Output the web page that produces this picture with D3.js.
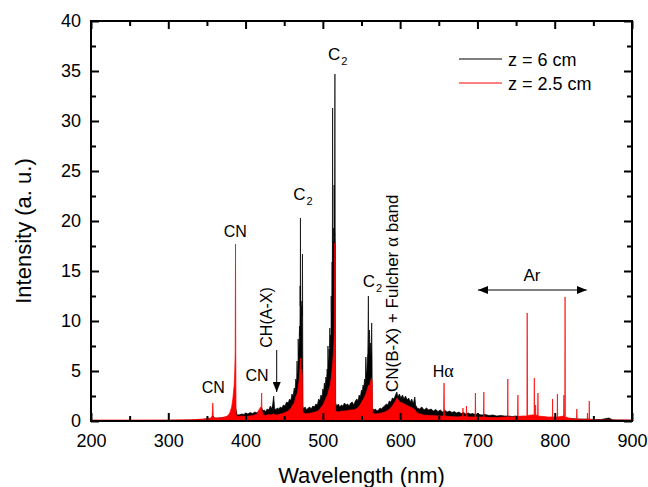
<!DOCTYPE html>
<html><head><meta charset="utf-8">
<script src="https://cdn.jsdelivr.net/npm/d3@7"></script>
<style>
body{margin:0;background:#fff}
svg{display:block;font-family:"Liberation Sans",Arial,sans-serif}
</style>
</head><body>
<svg id="chart" width="648" height="487"></svg>
<script>
// ---------- data ----------
const xTickValues = [200, 300, 400, 500, 600, 700, 800, 900];
const xMinorValues = [250, 350, 450, 550, 650, 750, 850];
const yTickValues = [0, 5, 10, 15, 20, 25, 30, 35, 40];
const yMinorValues = [2.5, 7.5, 12.5, 17.5, 22.5, 27.5, 32.5, 37.5];
const seriesNames = ["z = 6 cm", "z = 2.5 cm"];
const seriesColors = ["#000000", "#ff0000"];

// [wavelength (nm), intensity (a.u.)]  z = 6 cm
const spectrum6cm = [
[200,0.05],[250,0.05],[300,0.06],[320,0.08],[340,0.12],[350,0.18],[355,0.22],[358,0.5],[360,0.28],[365,0.3],[370,0.33],[375,0.38],[380,0.45],[384,0.7],[387,1.4],[389,0.6],
[392,0.62],[395,0.7],[398,0.66],[400,0.8],[403,0.7],[406,0.85],[409,0.75],[412,0.9],[415,0.8],[417,1.0],[419,0.9],[421,1.3],[422.5,1.0],[424,1.1],[426,0.95],[428,1.2],
[430,1.1],[432,1.5],[433.5,1.2],[435,1.6],[436.4,2.5],[437.5,1.3],[439,1.1],[441,1.3],[443,1.2],[445,1.4],[447,1.3],[449,1.6],[451,1.5],[453,1.9],[455,1.8],[457,2.2],
[458.5,2.0],[460,2.7],[461.5,2.5],[463,3.3],[464,3.0],[465,4.2],[466,3.8],[466.6,6.0],[467,5.0],[467.8,4.6],[468.1,8.2],[468.5,6.5],[469.2,7.5],[469.8,9.5],[470.3,8.5],[470.6,13.5],[470.8,11.5],[471,20.3],[471.3,10],
[471.8,11.5],[472.3,9],[472.8,12],[473.3,10.5],[473.6,16.7],[473.9,9.5],[474.2,1.5],[475,1.2],[477,1.4],[479,1.1],[481,1.3],[483,1.4],[485,1.2],[487,1.5],[489,1.4],[491,1.7],
[493,1.6],[494.5,2.2],[496,2.0],[497.5,2.6],[499,2.4],[500,3.2],[501,2.9],[502,3.8],[503,3.5],[504,4.4],[504.8,4.0],[505.5,5.2],[506.2,4.8],[506.6,7.5],[507,6.3],[507.6,5.6],[508.2,7.2],
[508.6,6.6],[509,9.3],[509.4,7.4],[510,8.6],[510.5,8.0],[510.8,12.5],[511,11.0],[511.4,10.0],[511.8,12.8],[512,15.9],[512.2,11.5],[512.6,31.3],[512.9,13.5],[513.3,15.8],[513.5,19.3],[513.7,14.5],[514.1,18.0],[514.5,16.5],[514.6,23.6],[514.9,20.0],
[515.2,18.5],[515.6,34.7],[515.9,19],[516.2,17.5],[516.5,1.8],[518,1.5],[520,1.7],[522,1.4],[524,1.6],[526,1.5],[528,1.8],[530,1.6],[532,1.7],[534,1.5],[536,1.8],[538,1.9],
[540,1.6],[542,2.0],[544,2.2],[545.5,2.0],[547,2.6],[548.5,2.4],[550,3.1],[551,2.9],[552,3.6],[553,3.3],[554,4.2],[555,3.9],[555.6,6.4],[556,5.1],[556.8,4.7],[557.5,6.2],[558.2,6.8],
[558.9,12.5],[559.3,7.2],[559.8,7.5],[560.3,9.1],[560.8,7.0],[561.4,7.8],[562,6.6],[562.6,7.2],[563.2,9.8],[563.6,6.5],[564,1.3],[566,1.1],[568,1.2],[570,1.0],[572,1.1],[574,1.3],
[576,1.2],[578,1.4],[580,1.5],[582,1.7],[584,1.6],[586,2.0],[588,1.9],[590,2.3],[592,2.2],[594,2.6],[595.7,2.9],[597,2.4],[599,2.7],[601,2.3],[603,2.6],[605,2.2],
[607,2.5],[609,2.1],[611,2.3],[613,1.9],[615,2.2],[617,1.7],[619,2.4],[620,1.6],[622,1.3],[625,1.2],[628,1.4],[631,1.1],[634,1.3],[637,1.1],[640,1.2],[643,1.0],
[646,1.15],[649,0.95],[652,1.1],[655,0.9],[658,1.05],[661,0.9],[664,1.0],[667,0.85],[670,0.95],[673,0.8],[676,0.9],[679,0.75],[682,0.85],[685,0.7],[688,0.8],[691,0.7],
[694,0.75],[697,0.65],[700,0.7],[705,0.6],[710,0.65],[715,0.55],[720,0.6],[725,0.5],[730,0.55],[735,0.5],[740,0.5],[745,0.45],[750,0.5],[755,0.4],[760,0.45],[765,0.4],
[770,0.4],[780,0.35],[790,0.35],[800,0.3],[810,0.3],[820,0.25],[830,0.2],[840,0.2],[850,0.15],[860,0.15],[870,0.3],[875,0.12],[880,0.1],[890,0.1],[900,0.08]
];

// [wavelength (nm), intensity (a.u.)]  z = 2.5 cm
const spectrum25cm = [
[200,0.1],[250,0.1],[300,0.1],[330,0.12],[345,0.2],[350,0.25],[355,0.3],[356.8,0.5],[357.6,1.8],[358.2,0.4],[360,0.3],[365,0.3],[370,0.35],[375,0.45],[378,0.6],[380,0.9],
[382,1.4],[383.5,2.2],[384.5,3.0],[385.3,3.6],[386,5.0],[386.6,6.8],[387,17.7],[387.3,7.0],[387.7,0.6],[390,0.45],[395,0.5],[400,0.45],[405,0.5],[410,0.55],[415,0.7],[416.5,1.0],
[418,1.2],[419.5,1.4],[420.3,1.3],[420.8,2.8],[421.2,1.0],[423,0.6],[426,0.55],[430,0.65],[433,0.6],[436,0.7],[440,0.6],[445,0.7],[450,0.8],[455,1.0],[458,1.2],[461,1.6],
[463,1.8],[465,2.4],[467,2.8],[468.5,3.6],[469.5,4.2],[470.5,5.5],[471.2,6.3],[471.8,4.8],[472.5,5.2],[473.4,4.5],[474,0.9],[477,0.7],[480,0.75],[485,0.8],[490,0.9],[494,1.0],
[497,1.3],[500,1.6],[502,1.9],[504,2.3],[506,2.6],[508,3.2],[509.5,3.6],[511,4.4],[512.2,5.4],[513,6.1],[513.8,7.0],[514.5,8.1],[515,9.5],[515.3,17.8],[515.8,16],[516.2,15],
[516.5,1.0],[520,0.9],[525,1.0],[530,1.0],[535,1.1],[540,1.1],[545,1.3],[548,1.6],[551,2.0],[554,2.4],[556,2.8],[558,3.3],[559,3.6],[560,3.4],[561.5,3.9],[563,4.3],
[563.8,4.0],[564.2,0.8],[568,0.7],[572,0.75],[576,0.8],[580,0.9],[585,1.1],[590,1.5],[594,2.0],[596,2.3],[599,1.9],[603,1.8],[608,1.6],[613,1.4],[618,1.2],[622,0.8],
[630,0.6],[640,0.55],[650,0.5],[656.2,0.5],[656.8,3.8],[657.3,0.5],[665,0.45],[675,0.4],[681,0.5],[681.3,1.3],[681.6,0.45],[685.5,0.5],[685.8,1.5],[686.1,0.45],[690,0.4],[697,0.4],
[697.4,2.8],[697.8,0.4],[705,0.4],[708,0.4],[708.3,2.9],[708.6,0.4],[715,0.35],[725,0.35],[735,0.4],[739,0.4],[739.3,4.2],[739.6,0.4],[745,0.4],[752,0.45],[752.4,2.6],[752.7,0.45],
[758,0.5],[764,0.5],[764.4,10.8],[764.8,0.55],[770,0.6],[773.3,0.6],[773.6,4.3],[773.9,0.6],[775,0.6],[775.3,1.6],[775.6,0.6],[778,0.55],[778.3,2.8],[778.6,0.5],[785,0.45],[792,0.4],
[797,0.4],[797.2,2.2],[797.5,0.4],[803.2,0.4],[803.5,2.7],[803.8,0.4],[811.6,0.5],[811.9,2.6],[812.2,0.5],[813.1,0.5],[813.4,12.4],[813.7,0.4],[818,0.3],[825,0.2],[828.3,0.2],[828.6,1.2],
[828.9,0.2],[835,0.15],[842,0.15],[842.4,0.8],[842.7,0.2],[844.4,0.2],[844.7,2.0],[845,0.15],[860,0.1],[880,0.1],[900,0.1]
];

// ---------- layout ----------
const svg = d3.select("#chart");
const L = 91, R = 632, T = 21, B = 421;
const x = d3.scaleLinear().domain([200, 900]).range([L, R]);
const y = d3.scaleLinear().domain([0, 40]).range([B, T]);

svg.append("defs").append("clipPath").attr("id", "clip")
  .append("rect").attr("x", L).attr("y", T).attr("width", R - L).attr("height", B - T);

const plot = svg.append("g").attr("clip-path", "url(#clip)");
const area = d3.area().x(d => x(d[0])).y0(y(0)).y1(d => y(d[1]));
const line = d3.line().x(d => x(d[0])).y(d => y(d[1]));

[spectrum6cm, spectrum25cm].forEach((data, i) => {
  plot.append("path").datum(data).attr("d", area).attr("fill", seriesColors[i]);
  plot.append("path").datum(data).attr("d", line).attr("fill", "none")
    .attr("stroke", seriesColors[i]).attr("stroke-width", 0.7);
});

// ---------- axes ----------
const fontSize = 18;
function styleAxis(g) {
  g.select(".domain").remove();
  g.selectAll(".tick line").attr("stroke", "#000").attr("stroke-width", 2);
  g.selectAll("text").attr("font-size", fontSize).attr("fill", "#000")
    .attr("font-family", '"Liberation Sans", Arial, sans-serif');
}
svg.append("g").attr("transform", `translate(0,${B})`)
  .call(d3.axisBottom(x).tickValues(xTickValues).tickSize(-8).tickPadding(13).tickFormat(d3.format("d"))).call(styleAxis);
svg.append("g").attr("transform", `translate(0,${B})`)
  .call(d3.axisBottom(x).tickValues(xMinorValues).tickSize(-5).tickFormat("")).call(styleAxis);
svg.append("g").attr("transform", `translate(0,${T})`)
  .call(d3.axisTop(x).tickValues(xTickValues).tickSize(-8).tickFormat("")).call(styleAxis);
svg.append("g").attr("transform", `translate(0,${T})`)
  .call(d3.axisTop(x).tickValues(xMinorValues).tickSize(-5).tickFormat("")).call(styleAxis);
svg.append("g").attr("transform", `translate(${L},0)`)
  .call(d3.axisLeft(y).tickValues(yTickValues).tickSize(-8).tickPadding(10).tickFormat(d3.format("d"))).call(styleAxis);
svg.append("g").attr("transform", `translate(${L},0)`)
  .call(d3.axisLeft(y).tickValues(yMinorValues).tickSize(-5).tickFormat("")).call(styleAxis);
svg.append("g").attr("transform", `translate(${R},0)`)
  .call(d3.axisRight(y).tickValues(yTickValues).tickSize(-8).tickFormat("")).call(styleAxis);
svg.append("g").attr("transform", `translate(${R},0)`)
  .call(d3.axisRight(y).tickValues(yMinorValues).tickSize(-5).tickFormat("")).call(styleAxis);

svg.append("rect").attr("x", L).attr("y", T).attr("width", R - L).attr("height", B - T)
  .attr("fill", "none").attr("stroke", "#000").attr("stroke-width", 2);

// axis titles
svg.append("text").attr("x", (L + R) / 2).attr("y", 483).attr("text-anchor", "middle")
  .attr("font-size", 22).text("Wavelength (nm)");
svg.append("text").attr("transform", `translate(31,231) rotate(-90)`).attr("text-anchor", "middle")
  .attr("font-size", 22).text("Intensity (a. u.)");

// ---------- legend ----------
const legend = svg.append("g");
seriesNames.forEach((name, i) => {
  const ly = 59 + i * 24;
  legend.append("line").attr("x1", 459).attr("x2", 502).attr("y1", ly).attr("y2", ly)
    .attr("stroke", seriesColors[i]).attr("stroke-width", 1);
  legend.append("text").attr("x", 508).attr("y", ly + 6.5).attr("font-size", 18).text(name);
});

// ---------- annotations ----------
const ann = svg.append("g").attr("fill", "#000");
const serif = '"Liberation Serif", "DejaVu Serif", serif';
function c2(wl, inten) {
  const t = ann.append("text").attr("x", x(wl)).attr("y", y(inten)).attr("font-size", 17);
  t.append("tspan").text("C");
  t.append("tspan").attr("dy", 5).attr("font-size", 11).attr("dx", 1).text("2");
}
c2(506.6, 36.15);
c2(461.8, 22.1);
c2(551.6, 13.43);
function label(txt, wl, inten, size) {
  ann.append("text").attr("x", x(wl)).attr("y", y(inten)).attr("text-anchor", "middle")
    .attr("font-size", size).text(txt);
}
label("CN", 386.7, 18.37, 16);
label("CN", 358.2, 2.83, 16);
label("CN", 414.8, 4.0, 16);
const ha = ann.append("text").attr("x", x(642.1)).attr("y", y(4.4)).attr("font-size", 16);
ha.append("tspan").text("H");
ha.append("tspan").attr("font-family", serif).attr("font-size", 18).text("α");
label("Ar", 770.6, 14.0, 17);
ann.append("text").attr("transform", `translate(${x(434.2)},${y(10.35)}) rotate(-90)`)
  .attr("text-anchor", "middle").attr("font-size", 16).text("CH(A-X)");
const fb = ann.append("text").attr("transform", `translate(${x(597.2)},${y(2.9)}) rotate(-90)`)
  .attr("text-anchor", "start").attr("font-size", 17);
fb.append("tspan").text("CN(B-X) + Fulcher ");
fb.append("tspan").attr("font-family", serif).attr("font-size", 19).text("α");
fb.append("tspan").text(" band");

// arrows
const defs = svg.select("defs");
defs.append("marker").attr("id", "ah").attr("viewBox", "0 0 10 8").attr("refX", 10).attr("refY", 4)
  .attr("markerWidth", 10).attr("markerHeight", 8).attr("markerUnits", "userSpaceOnUse")
  .attr("orient", "auto-start-reverse")
  .append("path").attr("d", "M0,0 L10,4 L0,8 Z").attr("fill", "#000");
svg.append("line").attr("x1", x(440.3)).attr("x2", x(440.3)).attr("y1", y(7.1)).attr("y2", y(2.9))
  .attr("stroke", "#000").attr("stroke-width", 1).attr("marker-end", "url(#ah)");
svg.append("line").attr("x1", x(700.7)).attr("x2", x(841.4)).attr("y1", y(13.1)).attr("y2", y(13.1))
  .attr("stroke", "#000").attr("stroke-width", 1).attr("marker-start", "url(#ah)").attr("marker-end", "url(#ah)");
</script>
</body></html>
